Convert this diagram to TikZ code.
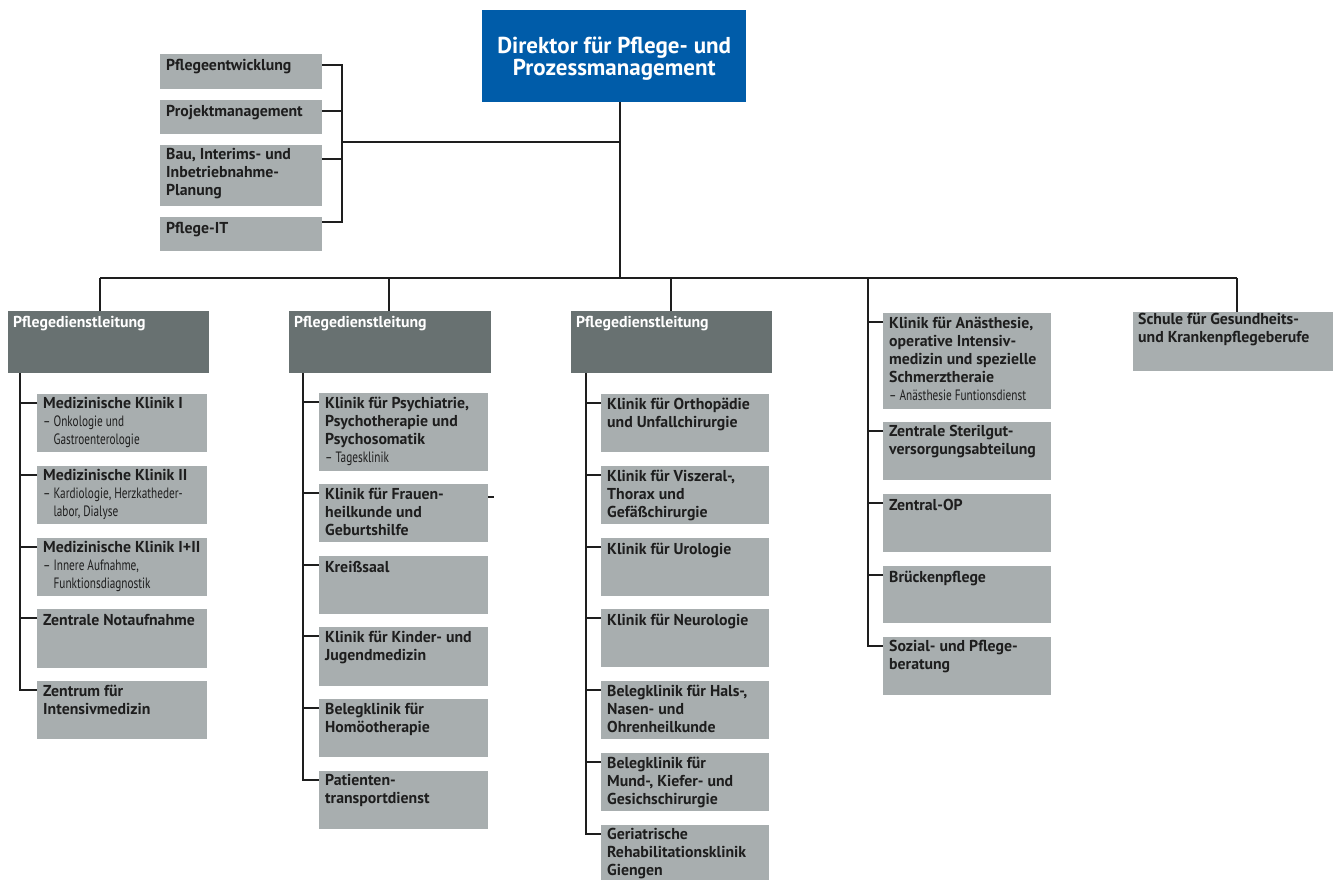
\documentclass[tikz,border=0pt]{standalone}
\usepackage{fontspec}
\setmainfont{PT Sans}
\newfontfamily\condfont[FakeStretch=0.75]{PT Sans}
\usetikzlibrary{calc}
\definecolor{boxgray}{HTML}{A8AEAF}
\definecolor{headgray}{HTML}{687171}
\definecolor{dirblue}{HTML}{005CA9}
\definecolor{ink}{HTML}{1E1E1E}
\newcommand\subl[1]{{\condfont\mdseries\fontsize{15}{18}\selectfont #1}}
\tikzset{
  gbox/.style={fill=boxgray, draw=none, inner sep=0pt, anchor=north west},
  hbox/.style={fill=headgray, draw=none, inner sep=0pt, anchor=north west},
  txt/.style={anchor=north west, inner sep=0pt, align=left, text=ink,
    font=\bfseries\fontsize{15.8}{18}\selectfont,
    execute at begin node=\rule{0pt}{12.5pt}},
  wtxt/.style={txt, text=white},
  conn/.style={draw=ink, line width=1.2pt}
}
% style, name, x, y, w, h, text
\newcommand\bx[7]{%
  \node[gbox, minimum width=#5pt, minimum height=#6pt] (#2) at (#3,#4) {};
  \node[#1] (#2t) at ([shift={(6pt,-3.5pt)}]#2.north west) {#7};
  \coordinate (#2s) at ([yshift=-9pt]#2.north west);}
\newcommand\hx[6]{%
  \node[hbox, minimum width=#4pt, minimum height=#5pt] (#1) at (#2,#3) {};
  \node[wtxt] (#1t) at ([shift={(5pt,-3.5pt)}]#1.north west) {#6};}
\begin{document}
\begin{tikzpicture}[x=1pt,y=-1pt]
\useasboundingbox (0,0) rectangle (1335,879);
\path[fill=white] (0,0) rectangle (1335,879);

% director
\node[fill=dirblue, inner sep=0pt, anchor=north west, minimum width=264pt, minimum height=92pt] (dir) at (482,10) {};
\node[text=white, align=center, inner sep=0pt, font=\bfseries\fontsize{23}{22}\selectfont] (dirt) at ([yshift=-2pt]dir.center) {Direktor für Pflege- und\\Prozessmanagement};

% staff boxes
\bx{txt}{se1}{160}{54}{162}{35}{Pflegeentwicklung}
\bx{txt}{se2}{160}{100}{162}{34}{Projektmanagement}
\bx{txt}{se3}{160}{145}{162}{61}{Bau, Interims- und\\Inbetriebnahme-\\Planung}
\bx{txt}{se4}{160}{217}{162}{34}{Pflege-IT}
\coordinate (se1r) at ([yshift=-11pt]se1.north east);
\coordinate (se2r) at ([yshift=-11pt]se2.north east);
\coordinate (se3r) at ([yshift=-14pt]se3.north east);
\coordinate (se4r) at ([yshift=-5pt]se4.north east);

% headers
\hx{h1}{8}{311}{201}{62}{Pflegedienstleitung}
\hx{h2}{289}{311}{202}{62}{Pflegedienstleitung}
\hx{h3}{571}{311}{201}{62}{Pflegedienstleitung}

% column 1
\bx{txt}{m1}{37}{394}{170}{58}{Medizinische Klinik I\\\subl{– Onkologie und}\\\subl{\phantom{– }Gastroenterologie}}
\bx{txt}{m2}{37}{466}{170}{58}{Medizinische Klinik II\\\subl{– Kardiologie, Herzkatheder-}\\\subl{\phantom{– }labor, Dialyse}}
\bx{txt}{m3}{37}{538}{170}{58}{Medizinische Klinik I+II\\\subl{– Innere Aufnahme,}\\\subl{\phantom{– }Funktionsdiagnostik}}
\bx{txt}{m4}{37}{609}{170}{59}{Zentrale Notaufnahme}
\bx{txt}{m5}{37}{681}{170}{58}{Zentrum für\\Intensivmedizin}

% column 2
\bx{txt}{p1}{319}{393}{169}{78}{Klinik für Psychiatrie,\\Psychotherapie und\\Psychosomatik\\\subl{– Tagesklinik}}
\bx{txt}{p2}{319}{484}{169}{58}{Klinik für Frauen-\\heilkunde und\\Geburtshilfe}
\bx{txt}{p3}{319}{556}{169}{58}{Kreißsaal}
\bx{txt}{p4}{319}{627}{169}{59}{Klinik für Kinder- und\\Jugendmedizin}
\bx{txt}{p5}{319}{699}{169}{58}{Belegklinik für\\Homöotherapie}
\bx{txt}{p6}{319}{771}{169}{58}{Patienten-\\transportdienst}

% column 3
\bx{txt}{k1}{601}{394}{168}{58}{Klinik für Orthopädie\\und Unfallchirurgie}
\bx{txt}{k2}{601}{466}{168}{58}{Klinik für Viszeral-,\\Thorax und\\Gefäßchirurgie}
\bx{txt}{k3}{601}{538}{168}{58}{Klinik für Urologie}
\bx{txt}{k4}{601}{609}{168}{58}{Klinik für Neurologie}
\bx{txt}{k5}{601}{681}{168}{58}{Belegklinik für Hals-,\\Nasen- und\\Ohrenheilkunde}
\bx{txt}{k6}{601}{753}{168}{58}{Belegklinik für\\Mund-, Kiefer- und\\Gesichschirurgie}
\bx{txt}{k7}{601}{825}{168}{60}{Geriatrische\\Rehabilitationsklinik\\Giengen}

% column 4
\bx{txt}{a1}{883}{313}{168}{96}{Klinik für Anästhesie,\\operative Intensiv-\\medizin und spezielle\\Schmerztheraie\\\subl{– Anästhesie Funtionsdienst}}
\bx{txt}{a2}{883}{422}{168}{58}{Zentrale Sterilgut-\\versorgungsabteilung}
\bx{txt}{a3}{883}{494}{168}{58}{Zentral-OP}
\bx{txt}{a4}{883}{566}{168}{57}{Brückenpflege}
\bx{txt}{a5}{883}{637}{168}{58}{Sozial- und Pflege-\\beratung}

% column 5
\node[gbox, minimum width=200pt, minimum height=59pt] (sc) at (1133,312) {};
\node[txt] (sct) at ([shift={(5pt,-1pt)}]sc.north west) {Schule für Gesundheits-\\und Krankenpflegeberufe};

% connectors
\coordinate (trunk) at (620,278);
\coordinate (L1) at (100,278);
\coordinate (L2) at (389,278);
\coordinate (L3) at (671,278);
\coordinate (L4) at (868,278);
\coordinate (L5) at (1237,278);
\coordinate (B) at (342,142);
\coordinate (S1) at (20,373);
\coordinate (S2) at (303,373);
\coordinate (S3) at (586,373);

\draw[conn] (dir.south -| trunk) -- (trunk);
\draw[conn] (L1) -- (L5);
\draw[conn] (L1) -- (L1 |- h1.north);
\draw[conn] (L2) -- (L2 |- h2.north);
\draw[conn] (L3) -- (L3 |- h3.north);
\draw[conn] (L5) -- (L5 |- sc.north);

% staff bracket
\draw[conn] (se1r) -- (se1r -| B) -- (se4r -| B) -- (se4r);
\draw[conn] (se2r) -- (se2r -| B);
\draw[conn] (se3r) -- (se3r -| B);
\draw[conn] (B) -- (B -| trunk);

% column 1 spine
\draw[conn] (S1) |- (m5s);
\foreach \n in {m1,m2,m3,m4} \draw[conn] (\n s) -- (\n s -| S1);
% column 2 spine
\draw[conn] (S2) |- (p6s);
\foreach \n in {p1,p2,p3,p4,p5} \draw[conn] (\n s) -- (\n s -| S2);
\coordinate (stray) at (494,497);
\draw[conn] (stray -| p2.east) -- (stray);
% column 3 spine
\draw[conn] (S3) |- (k7s);
\foreach \n in {k1,k2,k3,k4,k5,k6} \draw[conn] (\n s) -- (\n s -| S3);
% column 4 spine
\draw[conn] (L4) |- (a5s);
\foreach \n in {a1,a2,a3,a4} \draw[conn] (\n s) -- (\n s -| L4);
\end{tikzpicture}
\end{document}
